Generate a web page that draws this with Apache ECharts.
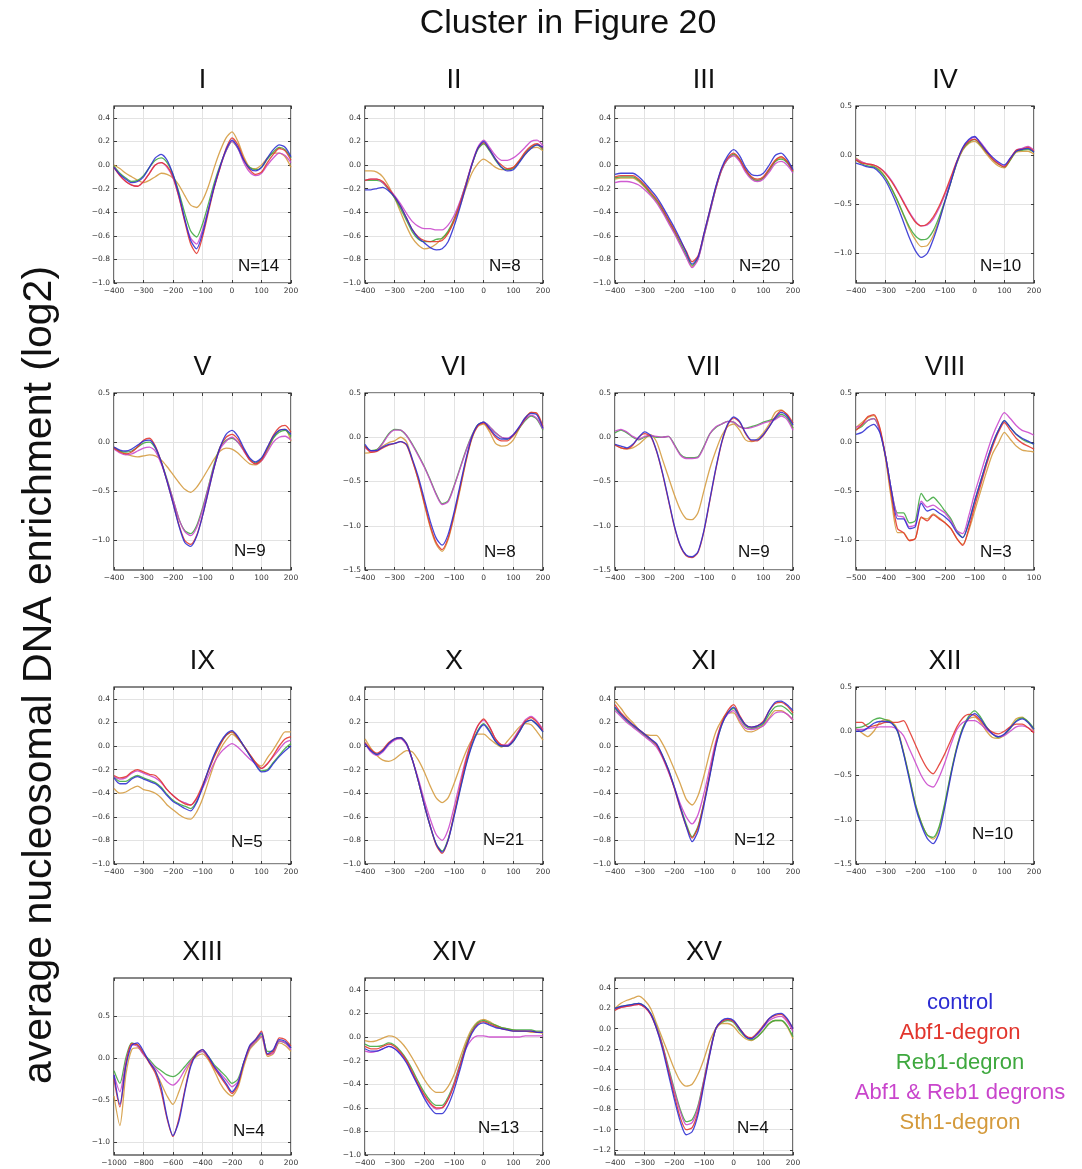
<!DOCTYPE html>
<html><head><meta charset="utf-8">
<script src="https://cdn.jsdelivr.net/npm/echarts@6/dist/echarts.min.js"></script>
<style>html,body{margin:0;padding:0;background:#fff}#c{width:1082px;height:1169px}</style>
</head><body><div id="c"></div>
<script>
// Positions relative to the TSS (bp)
const X_STD = [-400,-380,-360,-340,-320,-300,-280,-260,-240,-220,-200,-180,-160,-140,-120,-100,-80,-60,-40,-20,0,20,40,60,80,100,120,140,160,180,200];
const X_VIII = [-500,-480,-460,-440,-420,-400,-380,-360,-340,-320,-300,-280,-260,-240,-220,-200,-180,-160,-140,-120,-100,-80,-60,-40,-20,0,20,40,60,80,100];
const X_XIII = [-1000,-960,-920,-880,-840,-800,-760,-720,-680,-640,-600,-560,-520,-480,-440,-400,-360,-320,-280,-240,-200,-160,-120,-80,-40,0,40,80,120,160,200];

// Tick labels
const XT_STD = [-400,-300,-200,-100,0,100,200];
const XT_VIII = [-500,-400,-300,-200,-100,0,100];
const XT_XIII = [-1000,-800,-600,-400,-200,0,200];
const YT_FINE = [-1.0,-0.8,-0.6,-0.4,-0.2,0.0,0.2,0.4];
const YT_HALF = [-1.0,-0.5,0.0,0.5];
const YT_WIDE = [-1.5,-1.0,-0.5,0.0,0.5];
const YT_XV = [-1.2,-1.0,-0.8,-0.6,-0.4,-0.2,0.0,0.2,0.4];

const LEGEND_LABELS = ['control','Abf1-degron','Reb1-degron','Abf1 & Reb1 degrons','Sth1-degron'];
const CLUSTERS = ['I','II','III','IV','V','VI','VII','VIII','IX','X','XI','XII','XIII','XIV','XV'];
const COUNTS = [14,8,20,10,9,8,9,3,5,21,12,10,4,13,4];

// Average enrichment per cluster and strain
const I_control = [-0.02,-0.08,-0.12,-0.15,-0.14,-0.10,-0.02,0.06,0.09,0.04,-0.08,-0.25,-0.46,-0.64,-0.71,-0.58,-0.38,-0.18,-0.01,0.13,0.21,0.15,0.04,-0.03,-0.05,-0.02,0.06,0.13,0.17,0.15,0.07];
const I_abf1 = [-0.02,-0.09,-0.14,-0.17,-0.18,-0.14,-0.07,0.00,0.02,-0.01,-0.10,-0.27,-0.48,-0.67,-0.75,-0.61,-0.40,-0.19,-0.02,0.14,0.23,0.17,0.05,-0.04,-0.08,-0.06,0.02,0.09,0.14,0.12,0.04];
const I_reb1 = [-0.01,-0.07,-0.11,-0.14,-0.13,-0.09,-0.02,0.04,0.06,0.02,-0.08,-0.23,-0.41,-0.56,-0.61,-0.50,-0.33,-0.15,0.00,0.12,0.20,0.14,0.04,-0.02,-0.04,-0.02,0.05,0.11,0.15,0.13,0.06];
const I_double = [-0.02,-0.09,-0.14,-0.17,-0.18,-0.14,-0.07,0.00,0.02,-0.02,-0.11,-0.27,-0.47,-0.62,-0.67,-0.55,-0.37,-0.18,-0.02,0.12,0.20,0.14,0.02,-0.06,-0.09,-0.07,0.00,0.06,0.10,0.08,0.02];
const I_sth1 = [0.00,-0.03,-0.07,-0.10,-0.13,-0.15,-0.13,-0.10,-0.07,-0.08,-0.11,-0.17,-0.26,-0.34,-0.36,-0.30,-0.18,-0.02,0.12,0.23,0.28,0.20,0.07,-0.02,-0.03,0.00,0.06,0.10,0.10,0.07,-0.02];

const II_control = [-0.21,-0.21,-0.20,-0.19,-0.22,-0.27,-0.35,-0.45,-0.55,-0.62,-0.66,-0.70,-0.72,-0.71,-0.65,-0.52,-0.36,-0.18,0.00,0.14,0.20,0.13,0.05,-0.02,-0.05,-0.04,0.02,0.09,0.14,0.17,0.15];
const II_abf1 = [-0.13,-0.12,-0.12,-0.14,-0.20,-0.27,-0.35,-0.45,-0.55,-0.61,-0.64,-0.65,-0.65,-0.64,-0.58,-0.47,-0.33,-0.17,0.00,0.14,0.19,0.13,0.05,0.00,-0.03,-0.02,0.04,0.11,0.16,0.18,0.14];
const II_reb1 = [-0.13,-0.13,-0.13,-0.15,-0.21,-0.28,-0.37,-0.47,-0.57,-0.63,-0.65,-0.65,-0.63,-0.62,-0.56,-0.46,-0.32,-0.16,0.00,0.13,0.18,0.12,0.04,-0.02,-0.04,-0.03,0.03,0.10,0.15,0.17,0.13];
const II_double = [-0.13,-0.12,-0.12,-0.15,-0.20,-0.26,-0.33,-0.41,-0.48,-0.52,-0.54,-0.54,-0.55,-0.55,-0.51,-0.43,-0.31,-0.16,0.01,0.15,0.21,0.15,0.08,0.04,0.04,0.06,0.10,0.15,0.20,0.21,0.16];
const II_sth1 = [-0.05,-0.05,-0.06,-0.10,-0.18,-0.28,-0.40,-0.52,-0.62,-0.68,-0.71,-0.70,-0.67,-0.62,-0.57,-0.48,-0.35,-0.20,-0.07,0.01,0.05,0.02,-0.02,-0.04,-0.04,-0.02,0.03,0.09,0.14,0.15,0.12];

const III_control = [-0.08,-0.07,-0.07,-0.07,-0.10,-0.15,-0.21,-0.27,-0.35,-0.44,-0.53,-0.63,-0.74,-0.84,-0.78,-0.58,-0.38,-0.18,-0.02,0.08,0.13,0.08,-0.02,-0.08,-0.09,-0.07,0.00,0.08,0.10,0.05,-0.04];
const III_abf1 = [-0.10,-0.09,-0.09,-0.09,-0.12,-0.17,-0.23,-0.29,-0.37,-0.46,-0.55,-0.64,-0.73,-0.82,-0.77,-0.58,-0.38,-0.19,-0.03,0.06,0.10,0.05,-0.04,-0.10,-0.12,-0.10,-0.03,0.04,0.07,0.03,-0.05];
const III_reb1 = [-0.11,-0.10,-0.10,-0.10,-0.13,-0.18,-0.24,-0.30,-0.38,-0.47,-0.56,-0.66,-0.76,-0.85,-0.79,-0.60,-0.40,-0.20,-0.04,0.05,0.09,0.05,-0.04,-0.11,-0.13,-0.11,-0.04,0.03,0.05,0.02,-0.06];
const III_double = [-0.15,-0.14,-0.14,-0.15,-0.17,-0.21,-0.26,-0.32,-0.40,-0.49,-0.58,-0.68,-0.78,-0.87,-0.80,-0.60,-0.40,-0.20,-0.04,0.05,0.08,0.03,-0.06,-0.12,-0.14,-0.12,-0.06,0.01,0.03,0.00,-0.07];
const III_sth1 = [-0.12,-0.11,-0.11,-0.11,-0.14,-0.19,-0.25,-0.31,-0.39,-0.48,-0.57,-0.67,-0.77,-0.86,-0.79,-0.59,-0.39,-0.19,-0.03,0.05,0.08,0.04,-0.05,-0.11,-0.13,-0.11,-0.05,0.03,0.06,0.03,-0.05];

const IV_control = [-0.08,-0.10,-0.12,-0.13,-0.18,-0.26,-0.38,-0.52,-0.68,-0.84,-0.97,-1.04,-1.00,-0.86,-0.68,-0.47,-0.27,-0.07,0.08,0.16,0.19,0.12,0.04,-0.02,-0.07,-0.10,-0.03,0.04,0.06,0.07,0.03];
const IV_abf1 = [-0.05,-0.08,-0.09,-0.10,-0.13,-0.19,-0.27,-0.37,-0.48,-0.59,-0.68,-0.72,-0.70,-0.63,-0.52,-0.38,-0.22,-0.06,0.07,0.14,0.16,0.11,0.03,-0.04,-0.09,-0.12,-0.04,0.05,0.06,0.08,0.04];
const IV_reb1 = [-0.05,-0.09,-0.11,-0.12,-0.16,-0.23,-0.34,-0.46,-0.60,-0.73,-0.82,-0.86,-0.85,-0.77,-0.63,-0.46,-0.27,-0.08,0.06,0.13,0.16,0.10,0.03,-0.04,-0.09,-0.12,-0.05,0.04,0.05,0.06,0.03];
const IV_double = [-0.04,-0.07,-0.09,-0.10,-0.13,-0.18,-0.26,-0.36,-0.47,-0.58,-0.67,-0.72,-0.71,-0.65,-0.54,-0.40,-0.24,-0.07,0.07,0.15,0.18,0.13,0.05,-0.03,-0.08,-0.11,-0.03,0.05,0.07,0.09,0.05];
const IV_sth1 = [-0.03,-0.07,-0.09,-0.11,-0.15,-0.23,-0.34,-0.47,-0.61,-0.75,-0.86,-0.93,-0.92,-0.82,-0.66,-0.47,-0.27,-0.08,0.05,0.12,0.14,0.09,0.01,-0.06,-0.11,-0.13,-0.05,0.03,0.04,0.04,0.01];

const V_control = [-0.05,-0.08,-0.09,-0.07,-0.03,0.01,0.02,-0.05,-0.20,-0.40,-0.62,-0.85,-1.02,-1.06,-0.96,-0.75,-0.50,-0.25,-0.05,0.08,0.12,0.06,-0.06,-0.16,-0.20,-0.16,-0.05,0.06,0.12,0.13,0.08];
const V_abf1 = [-0.06,-0.10,-0.12,-0.10,-0.05,0.02,0.04,-0.04,-0.20,-0.40,-0.62,-0.84,-1.00,-1.04,-0.95,-0.75,-0.50,-0.25,-0.05,0.05,0.08,0.03,-0.08,-0.18,-0.22,-0.18,-0.06,0.07,0.15,0.17,0.10];
const V_reb1 = [-0.06,-0.09,-0.10,-0.09,-0.05,-0.01,0.00,-0.06,-0.20,-0.38,-0.58,-0.78,-0.90,-0.93,-0.85,-0.67,-0.45,-0.22,-0.05,0.02,0.04,0.00,-0.08,-0.17,-0.21,-0.17,-0.07,0.04,0.10,0.12,0.06];
const V_double = [-0.07,-0.11,-0.13,-0.12,-0.09,-0.06,-0.05,-0.09,-0.22,-0.39,-0.58,-0.78,-0.91,-0.95,-0.87,-0.69,-0.46,-0.24,-0.07,0.01,0.05,0.00,-0.09,-0.18,-0.22,-0.19,-0.10,0.00,0.05,0.06,0.02];
const V_sth1 = [-0.05,-0.09,-0.12,-0.14,-0.15,-0.14,-0.13,-0.14,-0.18,-0.25,-0.33,-0.41,-0.48,-0.51,-0.46,-0.37,-0.27,-0.17,-0.09,-0.06,-0.07,-0.11,-0.17,-0.22,-0.23,-0.19,-0.09,0.04,0.12,0.13,0.01];

const VI_control = [-0.08,-0.15,-0.15,-0.11,-0.08,-0.07,-0.05,-0.08,-0.25,-0.45,-0.70,-0.95,-1.14,-1.22,-1.10,-0.85,-0.55,-0.25,0.00,0.14,0.17,0.10,0.02,-0.02,-0.02,0.03,0.12,0.22,0.27,0.25,0.10];
const VI_abf1 = [-0.10,-0.17,-0.16,-0.12,-0.09,-0.07,-0.05,-0.09,-0.27,-0.48,-0.74,-1.00,-1.19,-1.27,-1.14,-0.88,-0.58,-0.27,-0.01,0.13,0.16,0.09,0.00,-0.04,-0.04,0.02,0.11,0.21,0.28,0.27,0.12];
const VI_reb1 = [-0.10,-0.15,-0.14,-0.06,0.04,0.09,0.08,0.02,-0.08,-0.20,-0.33,-0.48,-0.64,-0.75,-0.72,-0.55,-0.35,-0.15,0.02,0.14,0.17,0.12,0.05,0.00,-0.02,0.02,0.10,0.19,0.24,0.20,0.08];
const VI_double = [-0.12,-0.16,-0.15,-0.07,0.03,0.08,0.08,0.02,-0.09,-0.21,-0.34,-0.49,-0.65,-0.76,-0.73,-0.56,-0.36,-0.16,0.01,0.13,0.17,0.12,0.05,0.00,-0.01,0.03,0.11,0.20,0.25,0.21,0.09];
const VI_sth1 = [-0.18,-0.17,-0.14,-0.10,-0.06,-0.04,0.00,-0.05,-0.26,-0.49,-0.76,-1.02,-1.21,-1.29,-1.16,-0.90,-0.60,-0.28,-0.02,0.12,0.15,0.06,-0.07,-0.10,-0.09,-0.03,0.10,0.22,0.28,0.26,0.10];

const VII_control = [-0.08,-0.10,-0.12,-0.08,0.00,0.06,0.02,-0.15,-0.40,-0.70,-1.00,-1.22,-1.33,-1.35,-1.29,-1.05,-0.70,-0.35,-0.05,0.15,0.23,0.18,0.05,-0.03,-0.03,0.03,0.12,0.22,0.28,0.24,0.14];
const VII_abf1 = [-0.09,-0.12,-0.13,-0.09,0.00,0.04,0.01,-0.16,-0.41,-0.71,-1.01,-1.23,-1.34,-1.36,-1.30,-1.06,-0.71,-0.36,-0.06,0.14,0.22,0.17,0.04,-0.04,-0.04,0.02,0.12,0.23,0.30,0.26,0.16];
const VII_reb1 = [0.05,0.08,0.05,0.00,-0.03,0.00,0.02,0.00,0.00,0.01,-0.08,-0.19,-0.23,-0.23,-0.22,-0.10,0.04,0.11,0.15,0.18,0.17,0.12,0.10,0.12,0.14,0.17,0.19,0.21,0.26,0.22,0.10];
const VII_double = [0.07,0.09,0.06,0.01,-0.02,0.01,0.02,0.01,0.00,0.01,-0.09,-0.20,-0.24,-0.24,-0.23,-0.11,0.04,0.12,0.15,0.18,0.17,0.12,0.10,0.11,0.13,0.16,0.18,0.20,0.24,0.20,0.08];
const VII_sth1 = [-0.08,-0.12,-0.13,-0.12,-0.08,-0.02,0.03,-0.05,-0.25,-0.45,-0.65,-0.82,-0.92,-0.93,-0.85,-0.60,-0.35,-0.15,0.02,0.12,0.15,0.08,-0.03,-0.05,-0.02,0.05,0.15,0.28,0.31,0.25,0.10];

const VIII_control = [0.08,0.10,0.15,0.18,0.10,-0.15,-0.50,-0.78,-0.78,-0.88,-0.86,-0.62,-0.70,-0.68,-0.72,-0.76,-0.82,-0.92,-0.97,-0.82,-0.60,-0.40,-0.20,-0.02,0.12,0.22,0.15,0.08,0.04,0.01,-0.02];
const VIII_abf1 = [0.12,0.18,0.26,0.28,0.15,-0.15,-0.55,-0.88,-0.92,-1.00,-0.98,-0.76,-0.80,-0.74,-0.78,-0.82,-0.88,-0.98,-1.05,-0.88,-0.65,-0.44,-0.23,-0.05,0.10,0.20,0.12,0.04,-0.01,-0.04,-0.07];
const VIII_reb1 = [0.13,0.16,0.22,0.24,0.12,-0.15,-0.50,-0.72,-0.72,-0.82,-0.80,-0.52,-0.60,-0.56,-0.62,-0.70,-0.78,-0.90,-0.97,-0.82,-0.60,-0.40,-0.20,-0.02,0.12,0.22,0.15,0.08,0.03,0.00,-0.02];
const VIII_double = [0.15,0.18,0.22,0.24,0.12,-0.15,-0.50,-0.75,-0.76,-0.86,-0.84,-0.60,-0.66,-0.64,-0.68,-0.72,-0.80,-0.90,-0.93,-0.75,-0.52,-0.32,-0.12,0.06,0.20,0.30,0.24,0.17,0.12,0.10,0.07];
const VIII_sth1 = [0.15,0.20,0.25,0.27,0.14,-0.18,-0.60,-0.92,-0.92,-1.00,-0.98,-0.77,-0.78,-0.73,-0.77,-0.82,-0.88,-0.98,-1.04,-0.90,-0.70,-0.50,-0.30,-0.12,-0.01,0.10,0.03,-0.04,-0.08,-0.09,-0.10];

const IX_control = [-0.27,-0.32,-0.32,-0.28,-0.26,-0.28,-0.30,-0.32,-0.36,-0.42,-0.47,-0.50,-0.53,-0.55,-0.48,-0.35,-0.20,-0.07,0.03,0.10,0.13,0.08,0.00,-0.08,-0.16,-0.22,-0.21,-0.15,-0.09,-0.04,0.00];
const IX_abf1 = [-0.25,-0.27,-0.26,-0.22,-0.20,-0.22,-0.24,-0.25,-0.30,-0.37,-0.42,-0.46,-0.49,-0.50,-0.44,-0.33,-0.21,-0.09,0.01,0.09,0.12,0.07,0.00,-0.07,-0.14,-0.19,-0.15,-0.08,0.00,0.06,0.08];
const IX_reb1 = [-0.26,-0.30,-0.30,-0.27,-0.25,-0.27,-0.29,-0.31,-0.35,-0.41,-0.46,-0.49,-0.51,-0.53,-0.47,-0.35,-0.21,-0.08,0.02,0.09,0.12,0.07,0.00,-0.08,-0.15,-0.21,-0.20,-0.14,-0.08,-0.02,0.02];
const IX_double = [-0.26,-0.28,-0.27,-0.23,-0.21,-0.23,-0.25,-0.27,-0.31,-0.37,-0.42,-0.46,-0.48,-0.50,-0.45,-0.36,-0.25,-0.14,-0.06,-0.01,0.02,-0.01,-0.06,-0.11,-0.15,-0.19,-0.15,-0.09,-0.03,0.03,0.05];
const IX_sth1 = [-0.36,-0.40,-0.39,-0.36,-0.34,-0.37,-0.38,-0.40,-0.44,-0.50,-0.54,-0.58,-0.61,-0.62,-0.56,-0.45,-0.30,-0.15,-0.03,0.05,0.10,0.06,0.00,-0.07,-0.14,-0.17,-0.10,-0.03,0.05,0.12,0.12];

const X_control = [0.02,-0.04,-0.07,-0.04,0.02,0.06,0.07,0.02,-0.12,-0.30,-0.50,-0.68,-0.83,-0.90,-0.80,-0.60,-0.38,-0.17,0.00,0.12,0.18,0.12,0.04,0.00,0.00,0.04,0.12,0.20,0.22,0.18,0.12];
const X_abf1 = [0.03,-0.03,-0.06,-0.03,0.03,0.06,0.07,0.02,-0.12,-0.30,-0.50,-0.68,-0.84,-0.91,-0.80,-0.58,-0.35,-0.13,0.04,0.17,0.23,0.16,0.06,0.01,0.00,0.05,0.13,0.21,0.24,0.20,0.13];
const X_reb1 = [0.02,-0.04,-0.07,-0.04,0.02,0.06,0.07,0.02,-0.12,-0.30,-0.50,-0.68,-0.83,-0.89,-0.79,-0.59,-0.37,-0.16,0.01,0.13,0.19,0.13,0.04,0.00,0.00,0.04,0.12,0.20,0.22,0.18,0.12];
const X_double = [0.02,-0.05,-0.08,-0.05,0.01,0.05,0.06,0.01,-0.12,-0.28,-0.46,-0.62,-0.75,-0.80,-0.71,-0.52,-0.31,-0.11,0.05,0.17,0.22,0.16,0.06,0.01,0.01,0.06,0.14,0.22,0.25,0.21,0.14];
const X_sth1 = [0.06,-0.02,-0.08,-0.12,-0.13,-0.11,-0.07,-0.04,-0.05,-0.12,-0.22,-0.34,-0.44,-0.48,-0.44,-0.32,-0.18,-0.05,0.05,0.10,0.10,0.06,0.02,-0.01,0.04,0.10,0.16,0.19,0.18,0.12,0.05];

const XI_control = [0.33,0.27,0.22,0.18,0.14,0.10,0.06,0.02,-0.08,-0.20,-0.35,-0.52,-0.68,-0.81,-0.72,-0.50,-0.25,0.00,0.18,0.28,0.33,0.25,0.18,0.16,0.17,0.20,0.30,0.37,0.38,0.35,0.30];
const XI_abf1 = [0.35,0.28,0.23,0.18,0.14,0.10,0.06,0.01,-0.09,-0.21,-0.36,-0.53,-0.68,-0.78,-0.69,-0.48,-0.23,0.02,0.20,0.30,0.35,0.26,0.18,0.16,0.17,0.21,0.30,0.36,0.37,0.34,0.28];
const XI_reb1 = [0.32,0.26,0.21,0.17,0.13,0.09,0.05,0.01,-0.08,-0.20,-0.35,-0.51,-0.66,-0.77,-0.68,-0.48,-0.24,0.01,0.18,0.28,0.32,0.24,0.17,0.15,0.16,0.19,0.27,0.33,0.34,0.31,0.26];
const XI_double = [0.30,0.25,0.20,0.16,0.12,0.08,0.04,-0.01,-0.10,-0.22,-0.35,-0.49,-0.60,-0.66,-0.58,-0.40,-0.18,0.04,0.19,0.27,0.30,0.22,0.15,0.14,0.15,0.17,0.23,0.28,0.29,0.27,0.22];
const XI_sth1 = [0.38,0.32,0.25,0.20,0.14,0.10,0.09,0.09,0.02,-0.08,-0.20,-0.32,-0.45,-0.50,-0.42,-0.25,-0.05,0.12,0.22,0.28,0.28,0.20,0.13,0.12,0.14,0.18,0.24,0.30,0.30,0.27,0.22];

const XII_control = [0.00,0.00,0.04,0.09,0.11,0.11,0.09,0.00,-0.25,-0.55,-0.85,-1.06,-1.21,-1.27,-1.15,-0.85,-0.50,-0.20,0.02,0.15,0.20,0.14,0.04,-0.03,-0.06,-0.03,0.04,0.11,0.14,0.10,0.02];
const XII_abf1 = [0.10,0.10,0.05,0.06,0.08,0.10,0.10,0.10,0.12,0.00,-0.15,-0.30,-0.42,-0.48,-0.38,-0.25,-0.10,0.05,0.15,0.19,0.18,0.12,0.04,-0.01,-0.03,0.00,0.05,0.08,0.08,0.04,-0.02];
const XII_reb1 = [0.04,0.05,0.08,0.13,0.15,0.13,0.10,0.00,-0.24,-0.52,-0.82,-1.03,-1.17,-1.20,-1.08,-0.80,-0.47,-0.18,0.04,0.17,0.23,0.16,0.05,-0.03,-0.07,-0.04,0.03,0.12,0.15,0.11,0.03];
const XII_double = [0.02,0.02,0.03,0.04,0.05,0.05,0.05,0.02,-0.05,-0.20,-0.35,-0.50,-0.60,-0.63,-0.52,-0.35,-0.15,0.02,0.10,0.12,0.12,0.08,0.02,-0.03,-0.06,-0.05,0.00,0.05,0.06,0.04,-0.01];
const XII_sth1 = [0.03,-0.02,-0.06,0.00,0.10,0.13,0.11,0.02,-0.23,-0.52,-0.82,-1.03,-1.17,-1.22,-1.10,-0.82,-0.48,-0.18,0.04,0.14,0.16,0.10,0.00,-0.07,-0.08,-0.04,0.05,0.14,0.16,0.10,0.00];

const XIII_control = [-0.20,-0.55,-0.10,0.15,0.18,0.08,-0.05,-0.15,-0.35,-0.70,-0.92,-0.75,-0.40,-0.10,0.05,0.10,0.02,-0.10,-0.20,-0.30,-0.40,-0.30,-0.05,0.15,0.22,0.30,0.05,0.10,0.22,0.20,0.12];
const XIII_abf1 = [-0.25,-0.58,-0.08,0.17,0.16,0.06,-0.06,-0.18,-0.40,-0.72,-0.93,-0.72,-0.38,-0.08,0.06,0.10,0.00,-0.12,-0.22,-0.32,-0.42,-0.32,-0.06,0.14,0.22,0.32,0.04,0.08,0.24,0.22,0.14];
const XIII_reb1 = [-0.15,-0.30,0.00,0.18,0.15,0.05,-0.02,-0.10,-0.15,-0.20,-0.22,-0.18,-0.10,-0.02,0.05,0.08,0.02,-0.08,-0.15,-0.22,-0.30,-0.25,-0.05,0.12,0.20,0.28,0.08,0.08,0.20,0.18,0.12];
const XIII_double = [-0.20,-0.40,-0.05,0.16,0.14,0.04,-0.04,-0.12,-0.20,-0.28,-0.32,-0.26,-0.14,-0.04,0.04,0.08,0.00,-0.10,-0.18,-0.26,-0.34,-0.28,-0.06,0.12,0.20,0.26,0.04,0.06,0.20,0.18,0.10];
const XIII_sth1 = [-0.45,-0.80,-0.20,0.10,0.12,0.05,-0.05,-0.15,-0.30,-0.45,-0.55,-0.40,-0.20,-0.05,0.02,0.05,-0.02,-0.15,-0.30,-0.40,-0.45,-0.35,-0.10,0.10,0.18,0.25,0.02,0.05,0.18,0.15,0.08];

const XIV_control = [-0.10,-0.12,-0.12,-0.10,-0.08,-0.10,-0.15,-0.22,-0.32,-0.42,-0.52,-0.60,-0.65,-0.65,-0.58,-0.45,-0.28,-0.10,0.03,0.10,0.12,0.10,0.08,0.07,0.06,0.05,0.05,0.05,0.05,0.04,0.04];
const XIV_abf1 = [-0.08,-0.10,-0.10,-0.08,-0.06,-0.08,-0.13,-0.20,-0.30,-0.40,-0.49,-0.56,-0.60,-0.60,-0.53,-0.41,-0.25,-0.08,0.04,0.11,0.13,0.11,0.09,0.07,0.06,0.05,0.05,0.05,0.05,0.04,0.04];
const XIV_reb1 = [-0.06,-0.08,-0.08,-0.07,-0.05,-0.07,-0.12,-0.19,-0.28,-0.38,-0.47,-0.54,-0.58,-0.58,-0.51,-0.39,-0.23,-0.07,0.05,0.12,0.14,0.12,0.10,0.08,0.07,0.06,0.06,0.06,0.06,0.05,0.05];
const XIV_double = [-0.12,-0.13,-0.12,-0.10,-0.08,-0.10,-0.14,-0.21,-0.31,-0.41,-0.50,-0.57,-0.61,-0.60,-0.53,-0.40,-0.24,-0.10,-0.02,0.01,0.01,0.00,0.00,0.00,0.00,0.00,0.00,0.01,0.01,0.01,0.01];
const XIV_sth1 = [-0.03,-0.04,-0.03,-0.01,0.01,0.00,-0.04,-0.10,-0.18,-0.27,-0.36,-0.43,-0.47,-0.47,-0.42,-0.32,-0.18,-0.04,0.07,0.13,0.15,0.13,0.10,0.08,0.07,0.06,0.05,0.05,0.04,0.04,0.03];

const XV_control = [0.20,0.22,0.23,0.24,0.25,0.22,0.15,0.00,-0.20,-0.45,-0.70,-0.92,-1.05,-1.02,-0.85,-0.55,-0.25,0.00,0.08,0.10,0.08,0.00,-0.08,-0.10,-0.05,0.02,0.10,0.14,0.15,0.10,0.00];
const XV_abf1 = [0.18,0.21,0.22,0.23,0.24,0.21,0.14,0.00,-0.18,-0.42,-0.66,-0.88,-1.00,-0.98,-0.82,-0.53,-0.24,0.00,0.07,0.09,0.07,0.00,-0.07,-0.09,-0.04,0.03,0.10,0.13,0.14,0.09,0.00];
const XV_reb1 = [0.20,0.22,0.23,0.24,0.25,0.22,0.15,0.02,-0.16,-0.38,-0.60,-0.80,-0.92,-0.90,-0.76,-0.50,-0.22,0.00,0.06,0.08,0.06,-0.02,-0.08,-0.11,-0.08,-0.02,0.05,0.08,0.08,0.03,-0.08];
const XV_double = [0.19,0.21,0.22,0.23,0.24,0.21,0.14,0.01,-0.17,-0.40,-0.62,-0.82,-0.95,-0.93,-0.78,-0.51,-0.23,0.00,0.07,0.09,0.07,0.00,-0.07,-0.10,-0.06,0.01,0.08,0.11,0.12,0.07,-0.03];
const XV_sth1 = [0.20,0.25,0.28,0.30,0.32,0.28,0.20,0.05,-0.10,-0.25,-0.40,-0.52,-0.57,-0.55,-0.45,-0.30,-0.12,0.00,0.05,0.05,0.02,-0.05,-0.10,-0.12,-0.08,-0.02,0.05,0.08,0.08,0.02,-0.10];

// Strain colours (same order as LEGEND_LABELS)
const STRAIN_COLORS = ['#2c2cd2', '#e2352c', '#3ea83e', '#c945cc', '#d49a3c'];
// Draw order: Sth1 first, control last (on top)
const DRAW_ORDER = [4, 2, 3, 1, 0];

const PANELS = [
  { x: X_STD,  xt: XT_STD,  y: [-1.0, 0.5], yt: YT_FINE, s: [I_control, I_abf1, I_reb1, I_double, I_sth1] },
  { x: X_STD,  xt: XT_STD,  y: [-1.0, 0.5], yt: YT_FINE, s: [II_control, II_abf1, II_reb1, II_double, II_sth1] },
  { x: X_STD,  xt: XT_STD,  y: [-1.0, 0.5], yt: YT_FINE, s: [III_control, III_abf1, III_reb1, III_double, III_sth1] },
  { x: X_STD,  xt: XT_STD,  y: [-1.3, 0.5], yt: YT_HALF, s: [IV_control, IV_abf1, IV_reb1, IV_double, IV_sth1] },
  { x: X_STD,  xt: XT_STD,  y: [-1.3, 0.5], yt: YT_HALF, s: [V_control, V_abf1, V_reb1, V_double, V_sth1] },
  { x: X_STD,  xt: XT_STD,  y: [-1.5, 0.5], yt: YT_WIDE, s: [VI_control, VI_abf1, VI_reb1, VI_double, VI_sth1] },
  { x: X_STD,  xt: XT_STD,  y: [-1.5, 0.5], yt: YT_WIDE, s: [VII_control, VII_abf1, VII_reb1, VII_double, VII_sth1] },
  { x: X_VIII, xt: XT_VIII, y: [-1.3, 0.5], yt: YT_HALF, s: [VIII_control, VIII_abf1, VIII_reb1, VIII_double, VIII_sth1] },
  { x: X_STD,  xt: XT_STD,  y: [-1.0, 0.5], yt: YT_FINE, s: [IX_control, IX_abf1, IX_reb1, IX_double, IX_sth1] },
  { x: X_STD,  xt: XT_STD,  y: [-1.0, 0.5], yt: YT_FINE, s: [X_control, X_abf1, X_reb1, X_double, X_sth1] },
  { x: X_STD,  xt: XT_STD,  y: [-1.0, 0.5], yt: YT_FINE, s: [XI_control, XI_abf1, XI_reb1, XI_double, XI_sth1] },
  { x: X_STD,  xt: XT_STD,  y: [-1.5, 0.5], yt: YT_WIDE, s: [XII_control, XII_abf1, XII_reb1, XII_double, XII_sth1] },
  { x: X_XIII, xt: XT_XIII, y: [-1.15, 0.95], yt: YT_HALF, s: [XIII_control, XIII_abf1, XIII_reb1, XIII_double, XIII_sth1] },
  { x: X_STD,  xt: XT_STD,  y: [-1.0, 0.5], yt: YT_FINE, s: [XIV_control, XIV_abf1, XIV_reb1, XIV_double, XIV_sth1] },
  { x: X_STD,  xt: XT_STD,  y: [-1.25, 0.5], yt: YT_XV, s: [XV_control, XV_abf1, XV_reb1, XV_double, XV_sth1] }
];

// Page layout (pixels)
const COL_LEFT = [114, 365, 615, 856];
const COL_WIDTH = [177, 178, 178, 178];
const ROW_TOP = [106, 393, 687, 978];
const PLOT_H = 177;
// "N=" label offset from the plot's top-left corner: [dx, centre dy]
const N_POS = [[124,160],[124,160],[124,160],[124,160],[120,158],[119,159],[123,159],[124,159],[117,155],[118,153],[119,153],[116,147],[119,153],[113,150],[122,150]];

const FONT = 'Liberation Sans, Arial, sans-serif';
const TICK_FONT = 'DejaVu Sans, sans-serif';
const MINUS = '\u2212';

function fmtY(v) { return (v < -1e-9 ? MINUS : '') + Math.abs(v).toFixed(1); }
function fmtX(v) { return (v < 0 ? MINUS : '') + Math.abs(Math.round(v)); }

const grids = [], xAxes = [], yAxes = [], series = [], graphics = [];

PANELS.forEach((p, i) => {
  const col = i % 4, row = Math.floor(i / 4);
  const left = COL_LEFT[col], top = ROW_TOP[row], w = COL_WIDTH[col];
  grids.push({ left, top, width: w, height: PLOT_H, show: true, borderColor: '#111', borderWidth: 1.2, backgroundColor: '#fff' });

  const tick = { show: true, inside: true, length: 3, lineStyle: { color: '#111', width: 0.8 } };
  const noLine = { show: false, onZero: false };
  const xMin = p.x[0], xMax = p.x[p.x.length - 1];
  const xa = 2 * i, ya = 2 * i;
  xAxes.push({
    gridIndex: i, type: 'value', position: 'bottom', min: xMin, max: xMax,
    axisLine: noLine,
    axisTick: Object.assign({ customValues: p.xt }, tick),
    axisLabel: { customValues: p.xt, formatter: fmtX, fontSize: 7.5, fontFamily: TICK_FONT, color: '#333', margin: 4 },
    splitLine: { show: true, lineStyle: { color: '#e3e3e3', width: 1 } }
  });
  xAxes.push({
    gridIndex: i, type: 'value', position: 'top', min: xMin, max: xMax,
    axisLine: noLine,
    axisTick: Object.assign({ customValues: p.xt }, tick),
    axisLabel: { show: false }, splitLine: { show: false }
  });
  yAxes.push({
    gridIndex: i, type: 'value', position: 'left', min: p.y[0], max: p.y[1],
    axisLine: noLine,
    axisTick: Object.assign({ customValues: p.yt }, tick),
    axisLabel: { customValues: p.yt, formatter: fmtY, fontSize: 7.5, fontFamily: TICK_FONT, color: '#333', margin: 4 },
    splitLine: { show: true, lineStyle: { color: '#e3e3e3', width: 1 } }
  });
  yAxes.push({
    gridIndex: i, type: 'value', position: 'right', min: p.y[0], max: p.y[1],
    axisLine: noLine,
    axisTick: Object.assign({ customValues: p.yt }, tick),
    axisLabel: { show: false }, splitLine: { show: false }
  });

  DRAW_ORDER.forEach(k => {
    const ys = p.s[k];
    series.push({
      type: 'line', name: LEGEND_LABELS[k], xAxisIndex: xa, yAxisIndex: ya,
      data: p.x.map((x, j) => [x, ys[j]]),
      showSymbol: false, smooth: 0.25, silent: true, animation: false,
      lineStyle: { color: STRAIN_COLORS[k], width: 1.3, opacity: 0.88 }
    });
  });

  graphics.push({
    type: 'text', silent: true,
    style: { text: CLUSTERS[i], x: left + w / 2, y: top - 12, align: 'center', textAlign: 'center',
      verticalAlign: 'bottom', textVerticalAlign: 'bottom', fontSize: 27, fontFamily: FONT, fill: '#111' }
  });
  graphics.push({
    type: 'text', silent: true, z: 100,
    style: { text: 'N=' + COUNTS[i], x: left + N_POS[i][0], y: top + N_POS[i][1], align: 'left', textAlign: 'left',
      verticalAlign: 'middle', textVerticalAlign: 'middle', fontSize: 17, fontFamily: FONT, fill: '#111' }
  });
});

graphics.push({
  type: 'text', silent: true,
  style: { text: 'Cluster in Figure 20', x: 568, y: 24, align: 'center', textAlign: 'center',
    verticalAlign: 'middle', textVerticalAlign: 'middle', fontSize: 34, fontFamily: FONT, fill: '#111' }
});
graphics.push({
  type: 'text', silent: true, x: 40, y: 675, rotation: Math.PI / 2,
  style: { text: 'average nucleosomal DNA enrichment (log2)', x: 0, y: 0, align: 'center', textAlign: 'center',
    verticalAlign: 'middle', textVerticalAlign: 'middle', fontSize: 41, fontFamily: FONT, fill: '#111' }
});
LEGEND_LABELS.forEach((label, k) => {
  graphics.push({
    type: 'text', silent: true,
    style: { text: label, x: 960, y: 1003 + 30 * k, align: 'center', textAlign: 'center',
      verticalAlign: 'middle', textVerticalAlign: 'middle', fontSize: 22, fontFamily: FONT, fill: STRAIN_COLORS[k] }
  });
});

const chart = echarts.init(document.getElementById('c'), null, { renderer: 'canvas', width: 1082, height: 1169 });
chart.setOption({
  backgroundColor: '#fff',
  animation: false,
  grid: grids, xAxis: xAxes, yAxis: yAxes, series: series, graphic: graphics
});
</script></body></html>
